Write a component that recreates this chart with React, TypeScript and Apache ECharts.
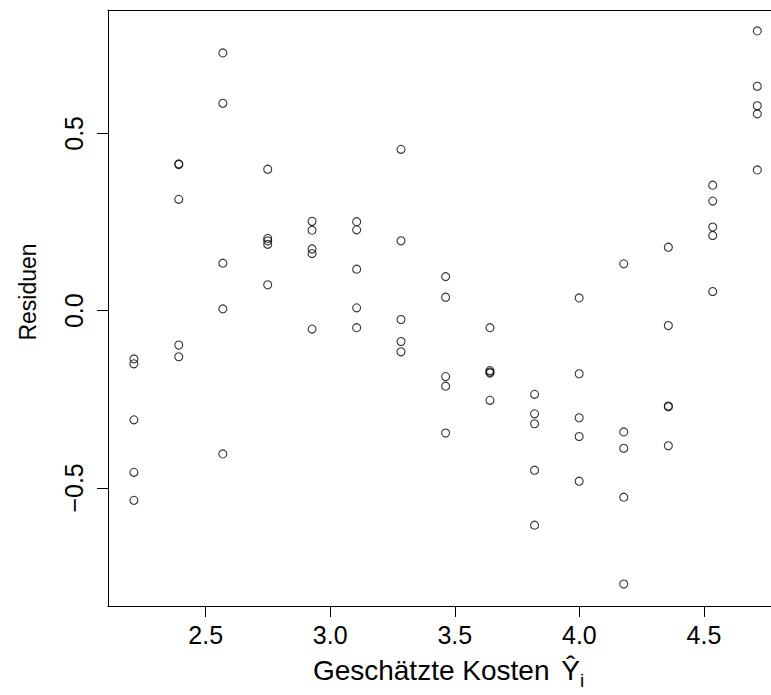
import React, { useEffect, useRef } from "react";
import * as echarts from "echarts";

// Fitted values (Geschätzte Kosten Ŷ_i), one per group
const fitted: number[] = [
  2.212, 2.392, 2.569, 2.749, 2.927, 3.106, 3.284, 3.463,
  3.641, 3.82, 3.999, 4.178, 4.357, 4.535, 4.714,
];

// Residuals for each fitted level (5 observations each)
const residuals: number[][] = [
  [-0.136, -0.15, -0.308, -0.456, -0.535],
  [0.414, 0.412, 0.314, -0.097, -0.13],
  [0.727, 0.585, 0.134, 0.005, -0.404],
  [0.399, 0.204, 0.197, 0.187, 0.073],
  [0.252, 0.227, 0.174, 0.161, -0.052],
  [0.251, 0.228, 0.117, 0.008, -0.048],
  [0.455, 0.197, -0.025, -0.087, -0.116],
  [0.096, 0.038, -0.186, -0.213, -0.345],
  [-0.048, -0.169, -0.173, -0.176, -0.253],
  [-0.236, -0.291, -0.319, -0.45, -0.605],
  [0.036, -0.178, -0.302, -0.355, -0.481],
  [0.132, -0.342, -0.388, -0.526, -0.771],
  [0.179, -0.042, -0.269, -0.271, -0.381],
  [0.354, 0.309, 0.236, 0.212, 0.054],
  [0.789, 0.633, 0.578, 0.555, 0.397],
];

const xTicks: number[] = [2.5, 3.0, 3.5, 4.0, 4.5];
const yTicks: number[] = [-0.5, 0.0, 0.5];

const FONT = "'Liberation Sans', Arial, Helvetica, sans-serif";
const X_MIN = 2.108;
const X_MAX = 4.769;

export default function App() {
  const ref = useRef<HTMLDivElement>(null);

  useEffect(() => {
    if (!ref.current) return;
    const chart = echarts.init(ref.current, null, { renderer: "svg" });
    const points: number[][] = [];
    fitted.forEach((x, i) => {
      residuals[i].forEach((r) => points.push([x, r]));
    });

    const lineStyle = { color: "#000", width: 1 };

    chart.setOption({
      animation: false,
      backgroundColor: "#ffffff",
      textStyle: { fontFamily: FONT },
      grid: {
        left: 108,
        top: 10,
        right: 0,
        bottom: 89,
        show: false,
      },
      xAxis: [
        {
          type: "value",
          position: "bottom",
          min: X_MIN,
          max: X_MAX,
          splitLine: { show: false },
          axisLine: { show: true, onZero: false, lineStyle },
          axisTick: {
            show: true,
            customValues: xTicks,
            length: 11,
            lineStyle,
          },
          axisLabel: {
            customValues: xTicks,
            formatter: (v: number) => v.toFixed(1),
            color: "#000",
            fontSize: 25,
            fontFamily: FONT,
            margin: 16,
          },
          name: "{t|Geschätzte Kosten }{y|Ŷ}{s|i}",
          nameLocation: "middle",
          nameGap: 50,
          nameTextStyle: {
            padding: [0, 0, 0, 18],
            rich: {
              t: { fontSize: 28, fontFamily: FONT, color: "#000", lineHeight: 34, verticalAlign: "top" },
              y: {
                fontSize: 28, fontFamily: FONT, color: "#000", lineHeight: 34, verticalAlign: "top",
                padding: [0, 0, 0, 4],
              },
              s: { fontSize: 19, fontFamily: FONT, color: "#000", lineHeight: 19, verticalAlign: "bottom" },
            },
          },
        },
        {
          type: "value",
          position: "top",
          min: X_MIN,
          max: X_MAX,
          splitLine: { show: false },
          axisLine: { show: true, onZero: false, lineStyle },
          axisTick: { show: false },
          axisLabel: { show: false },
        },
      ],
      yAxis: {
        type: "value",
        min: -0.833,
        max: 0.848,
        splitLine: { show: false },
        axisLine: { show: true, onZero: false, lineStyle },
        axisTick: {
          show: true,
          customValues: yTicks,
          length: 11,
          lineStyle,
        },
        axisLabel: {
          customValues: yTicks,
          rotate: 90,
          formatter: (v: number) => v.toFixed(1).replace("-", "\u2212"),
          color: "#000",
          fontSize: 25,
          fontFamily: FONT,
          margin: 22,
        },
      },
      graphic: [
        {
          type: "text",
          x: 28,
          y: 292,
          rotation: Math.PI / 2,
          style: {
            text: "Residuen",
            fontSize: 23,
            fontFamily: FONT,
            fill: "#000",
            align: "center",
            verticalAlign: "middle",
          },
        },
      ],
      series: [
        {
          type: "scatter",
          xAxisIndex: 0,
          data: points,
          symbol: "circle",
          symbolSize: 8,
          itemStyle: { color: "rgba(0,0,0,0)", borderColor: "#000", borderWidth: 1.1 },
          emphasis: { disabled: true },
        },
      ],
    });

    return () => chart.dispose();
  }, []);

  return (
    <div
      ref={ref}
      style={{ position: "fixed", left: 0, top: 0, width: 771, height: 695, background: "#fff" }}
    />
  );
}
